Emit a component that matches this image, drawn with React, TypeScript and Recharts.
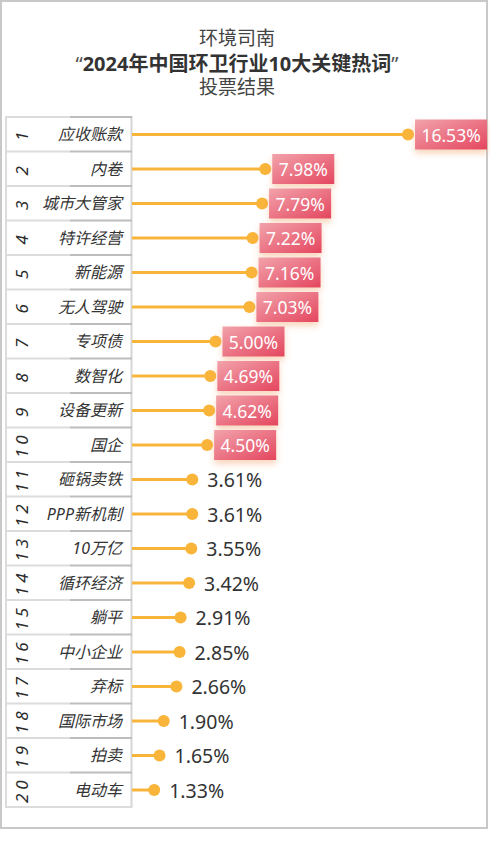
import React from "react";
import { BarChart, Bar, XAxis, YAxis, LabelList } from "recharts";

const keywords = [
  "应收账款", "内卷", "城市大管家", "特许经营", "新能源",
  "无人驾驶", "专项债", "数智化", "设备更新", "国企",
  "砸锅卖铁", "PPP新机制", "10万亿", "循环经济", "躺平",
  "中小企业", "弃标", "国际市场", "拍卖", "电动车",
];
const shares = [
  16.53, 7.98, 7.79, 7.22, 7.16, 7.03, 5.0, 4.69, 4.62, 4.5,
  3.61, 3.61, 3.55, 3.42, 2.91, 2.85, 2.66, 1.9, 1.65, 1.33,
];
const titleLines = ["环境司南", "2024年中国环卫行业10大关键热词", "投票结果"];
const highlightCount = 10;

const data = keywords.map((name, i) => ({ name, rank: i + 1, value: shares[i] }));

const FONT = "'Noto Sans', 'Noto Sans CJK SC', sans-serif";
const ORANGE = "#F9B43A";
const TOP = 117;
const BOTTOM = 35;
const ROW = (842 - TOP - BOTTOM) / keywords.length;

const RowTick = (props: any) => {
  const { y, index, payload } = props;
  const top = y - ROW / 2;
  const last = index === keywords.length - 1;
  return (
    <g>
      <line x1={6} x2={70} y1={top} y2={top} stroke="#dcdcdc" strokeWidth={2} />
      <line x1={70} x2={132} y1={top} y2={top} stroke="#bdbdbd" strokeWidth={2} />
      {last && (
        <line x1={6} x2={132} y1={top + ROW} y2={top + ROW} stroke="#dcdcdc" strokeWidth={2} />
      )}
      <text
        transform={`translate(21, ${y}) rotate(-90)`}
        textAnchor="middle"
        dominantBaseline="central"
        fontStyle="italic"
        fontSize={17}
        letterSpacing={4}
        fill="#2b2b2b"
        fontFamily={FONT}
      >
        {index + 1}
      </text>
      <text
        x={122}
        y={y}
        textAnchor="end"
        dominantBaseline="central"
        fontStyle="italic"
        fontSize={16}
        fill="#333"
        fontFamily={FONT}
      >
        {payload.value}
      </text>
    </g>
  );
};

const Lollipop = (props: any) => {
  const { x, y, width, height } = props;
  const cy = y + height / 2;
  return (
    <g>
      <line x1={x} x2={x + width} y1={cy} y2={cy} stroke={ORANGE} strokeWidth={3} />
      <circle cx={x + width} cy={cy} r={6} fill={ORANGE} />
    </g>
  );
};

const ValueLabel = (props: any) => {
  const { x, y, width, height, value, index } = props;
  const cy = y + height / 2;
  const end = x + width;
  const txt = Number(value).toFixed(2) + "%";
  if (index < highlightCount) {
    const w = txt.length * 10 + 12;
    return (
      <g>
        <rect
          x={end + 7}
          y={cy - 15}
          width={w}
          height={30}
          fill="url(#boxGrad)"
          filter="url(#boxShadow)"
        />
        <text
          x={end + 7 + w / 2}
          y={cy}
          textAnchor="middle"
          dominantBaseline="central"
          fontSize={17.5}
          fill="#fff"
          fontFamily={FONT}
        >
          {txt}
        </text>
      </g>
    );
  }
  return (
    <text
      x={end + 15}
      y={cy}
      dominantBaseline="central"
      fontSize={19.5}
      fill="#333"
      fontFamily={FONT}
    >
      {txt}
    </text>
  );
};

export default function App() {
  return (
    <div style={{ position: "absolute", left: 0, top: 0, width: 490, height: 842, background: "#fff" }}>
      <svg width={490} height={842} style={{ position: "absolute", left: 0, top: 0 }}>
        <rect x={1} y={1} width={486} height={827} fill="none" stroke="#c8c8c8" strokeWidth={2} />
        <line x1={6} x2={6} y1={TOP - 1} y2={842 - BOTTOM + 1} stroke="#dcdcdc" strokeWidth={2} />
        <line x1={131.5} x2={131.5} y1={TOP - 1} y2={842 - BOTTOM + 1} stroke="#d6d6d6" strokeWidth={2} />
        <text x={237} y={38} textAnchor="middle" dominantBaseline="central" fontSize={19} fill="#444" fontFamily={FONT}>
          {titleLines[0]}
        </text>
        <text x={237} y={63} textAnchor="middle" dominantBaseline="central" fontSize={20} fill="#333" fontFamily={FONT}>
          <tspan fontWeight="normal" fill="#555">“</tspan>
          <tspan fontWeight="bold">{titleLines[1]}</tspan>
          <tspan fontWeight="normal" fill="#555">”</tspan>
        </text>
        <text x={237} y={87} textAnchor="middle" dominantBaseline="central" fontSize={19} fill="#444" fontFamily={FONT}>
          {titleLines[2]}
        </text>
      </svg>
      <div style={{ position: "absolute", left: 0, top: 0 }}>
        <BarChart
          width={490}
          height={842}
          data={data}
          layout="vertical"
          margin={{ top: TOP, right: 24, left: 6, bottom: BOTTOM }}
          barCategoryGap={0}
        >
          <defs>
            <linearGradient id="boxGrad" x1="0" y1="0" x2="1" y2="1">
              <stop offset="0%" stopColor="#F2A3AB" />
              <stop offset="100%" stopColor="#E4465F" />
            </linearGradient>
            <filter id="boxShadow" x="-30%" y="-40%" width="160%" height="190%">
              <feDropShadow dx={0} dy={4} stdDeviation={3} floodColor="#F3A36A" floodOpacity={0.45} />
            </filter>
          </defs>
          <XAxis type="number" domain={[0, 20]} hide />
          <YAxis
            type="category"
            dataKey="name"
            width={126}
            axisLine={false}
            tickLine={false}
            interval={0}
            tick={<RowTick />}
          />
          <Bar dataKey="value" shape={<Lollipop />} isAnimationActive={false}>
            <LabelList dataKey="value" content={<ValueLabel />} />
          </Bar>
        </BarChart>
      </div>
    </div>
  );
}
